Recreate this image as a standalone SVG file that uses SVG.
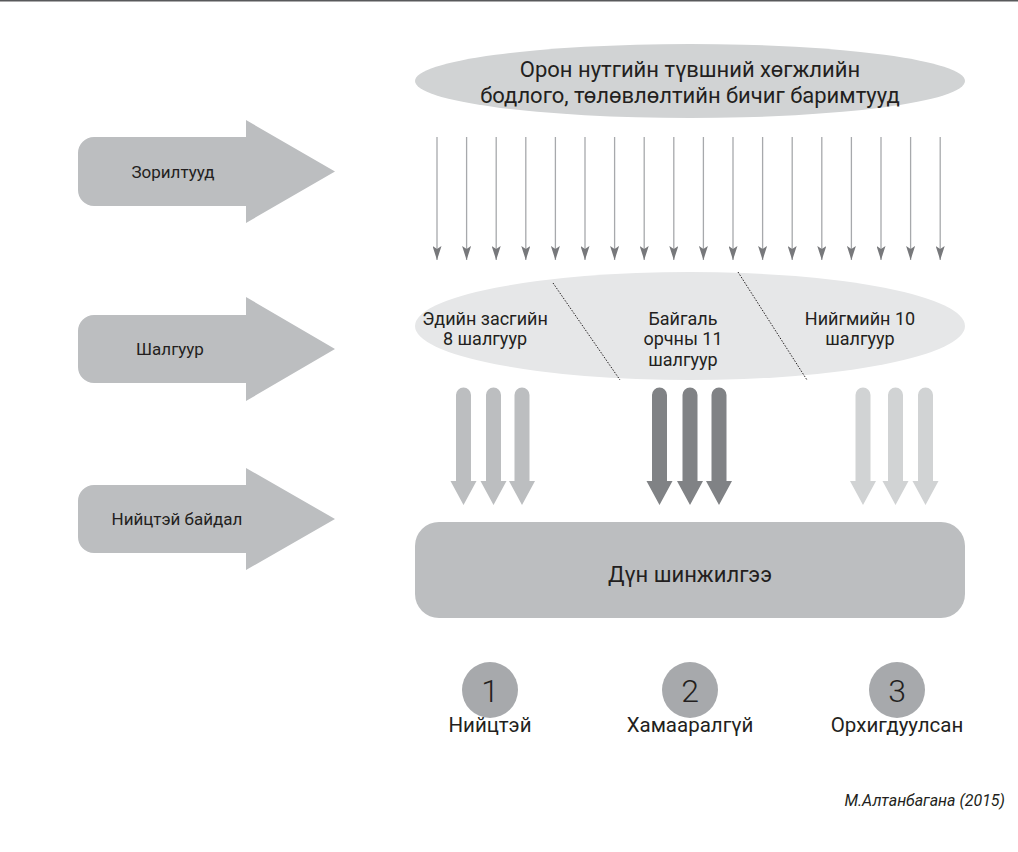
<svg xmlns="http://www.w3.org/2000/svg" width="1018" height="852" viewBox="0 0 1018 852">
<style>
text{font-family:Roboto,"Liberation Sans",sans-serif;fill:#231f20}
.side{fill:#bcbec0}
.thin line{stroke:#a7a9ac;stroke-width:1.3}
.t{font-size:18px;text-anchor:middle}
.s{font-size:17px;text-anchor:middle}
.n{font-size:32px;text-anchor:middle;font-weight:300}
.l{font-size:20.5px;text-anchor:middle}
</style>
<defs>
<marker id="ah" markerWidth="14" markerHeight="9" refX="14" refY="4.5" orient="auto" markerUnits="userSpaceOnUse" viewBox="0 0 14 9">
<path d="M0,0 L3,4.5 L0,9 L14,4.5 Z" fill="#77787b"/>
</marker>
<path id="fat" d="M-7.5,0 L-7.5,86 L-13,86 L0,110 L13,86 L7.5,86 L7.5,0 A7.5,7.5 0 0 0 -7.5,0 Z"/>
</defs>
<rect width="1018" height="852" fill="#fff"/>
<line x1="0" y1="0.8" x2="1018" y2="0.8" stroke="#58595b" stroke-width="1.6"/>

<g id="side-goals">
<path class="side" d="M94,137 L246,137 L246,120 L335,171.5 L246,223 L246,206 L94,206 A16,16 0 0 1 78,190 L78,153 A16,16 0 0 1 94,137 Z"/>
<text class="s" x="173" y="177.5">Зорилтууд</text>
</g>
<g id="side-criteria">
<path class="side" d="M94,315 L246,315 L246,297 L335,349 L246,401 L246,383 L94,383 A16,16 0 0 1 78,367 L78,331 A16,16 0 0 1 94,315 Z"/>
<text class="s" x="170" y="355">Шалгуур</text>
</g>
<g id="side-consistency">
<path class="side" d="M94,485 L246,485 L246,468 L335,519 L246,570 L246,553 L94,553 A16,16 0 0 1 78,537 L78,501 A16,16 0 0 1 94,485 Z"/>
<text class="s" x="177" y="525">Нийцтэй байдал</text>
</g>

<g id="documents">
<ellipse cx="690" cy="81" rx="275" ry="37" fill="#d1d3d4"/>
<text x="690" y="77" font-size="22" text-anchor="middle">Орон нутгийн түвшний хөгжлийн</text>
<text x="690" y="103" font-size="22" text-anchor="middle">бодлого, төлөвлөлтийн бичиг баримтууд</text>
</g>

<g id="criteria">
<ellipse cx="690" cy="326" rx="275" ry="54" fill="#e6e7e8"/>
<line x1="553" y1="283" x2="620" y2="380" stroke="#231f20" stroke-width="1" stroke-dasharray="1.5,1.5"/>
<line x1="738" y1="272" x2="807" y2="380" stroke="#231f20" stroke-width="1" stroke-dasharray="1.5,1.5"/>
<text class="t" x="485" y="325">Эдийн засгийн</text>
<text class="t" x="485" y="345">8 шалгуур</text>
<text class="t" x="683" y="325">Байгаль</text>
<text class="t" x="683" y="345">орчны 11</text>
<text class="t" x="683" y="366">шалгуур</text>
<text class="t" x="860" y="325">Нийгмийн 10</text>
<text class="t" x="860" y="345">шалгуур</text>
</g>

<g id="connectors">
<g class="thin">
<line x1="437" y1="137" x2="437" y2="260" marker-end="url(#ah)"/>
<line x1="466.6" y1="137" x2="466.6" y2="260" marker-end="url(#ah)"/>
<line x1="496.2" y1="137" x2="496.2" y2="260" marker-end="url(#ah)"/>
<line x1="525.8" y1="137" x2="525.8" y2="260" marker-end="url(#ah)"/>
<line x1="555.4" y1="137" x2="555.4" y2="260" marker-end="url(#ah)"/>
<line x1="585" y1="137" x2="585" y2="260" marker-end="url(#ah)"/>
<line x1="614.6" y1="137" x2="614.6" y2="260" marker-end="url(#ah)"/>
<line x1="644.2" y1="137" x2="644.2" y2="260" marker-end="url(#ah)"/>
<line x1="673.8" y1="137" x2="673.8" y2="260" marker-end="url(#ah)"/>
<line x1="703.4" y1="137" x2="703.4" y2="260" marker-end="url(#ah)"/>
<line x1="733" y1="137" x2="733" y2="260" marker-end="url(#ah)"/>
<line x1="762.6" y1="137" x2="762.6" y2="260" marker-end="url(#ah)"/>
<line x1="792.2" y1="137" x2="792.2" y2="260" marker-end="url(#ah)"/>
<line x1="821.8" y1="137" x2="821.8" y2="260" marker-end="url(#ah)"/>
<line x1="851.4" y1="137" x2="851.4" y2="260" marker-end="url(#ah)"/>
<line x1="881" y1="137" x2="881" y2="260" marker-end="url(#ah)"/>
<line x1="910.6" y1="137" x2="910.6" y2="260" marker-end="url(#ah)"/>
<line x1="940.2" y1="137" x2="940.2" y2="260" marker-end="url(#ah)"/>
</g>
<g fill="#bcbec0">
<use href="#fat" x="463.5" y="395"/>
<use href="#fat" x="493.5" y="395"/>
<use href="#fat" x="522" y="395"/>
</g>
<g fill="#808285">
<use href="#fat" x="659.5" y="395"/>
<use href="#fat" x="690" y="395"/>
<use href="#fat" x="719" y="395"/>
</g>
<g fill="#d1d3d4">
<use href="#fat" x="863" y="395"/>
<use href="#fat" x="895.5" y="395"/>
<use href="#fat" x="925.5" y="395"/>
</g>
</g>

<g id="analysis">
<rect x="415" y="522" width="550" height="96" rx="24" fill="#bcbec0"/>
<text x="690" y="582" font-size="22" text-anchor="middle">Дүн шинжилгээ</text>
</g>

<g id="result-1">
<circle cx="490" cy="690" r="28" fill="#a7a9ac"/>
<text class="n" x="490" y="702">1</text>
<text class="l" x="490" y="732">Нийцтэй</text>
</g>
<g id="result-2">
<circle cx="690" cy="690" r="28" fill="#a7a9ac"/>
<text class="n" x="690" y="702">2</text>
<text class="l" x="690" y="732">Хамааралгүй</text>
</g>
<g id="result-3">
<circle cx="897" cy="690" r="28" fill="#a7a9ac"/>
<text class="n" x="897" y="702">3</text>
<text class="l" x="897" y="732">Орхигдуулсан</text>
</g>

<text x="1005" y="806" font-size="16" font-style="italic" text-anchor="end">М.Алтанбагана (2015)</text>
</svg>
